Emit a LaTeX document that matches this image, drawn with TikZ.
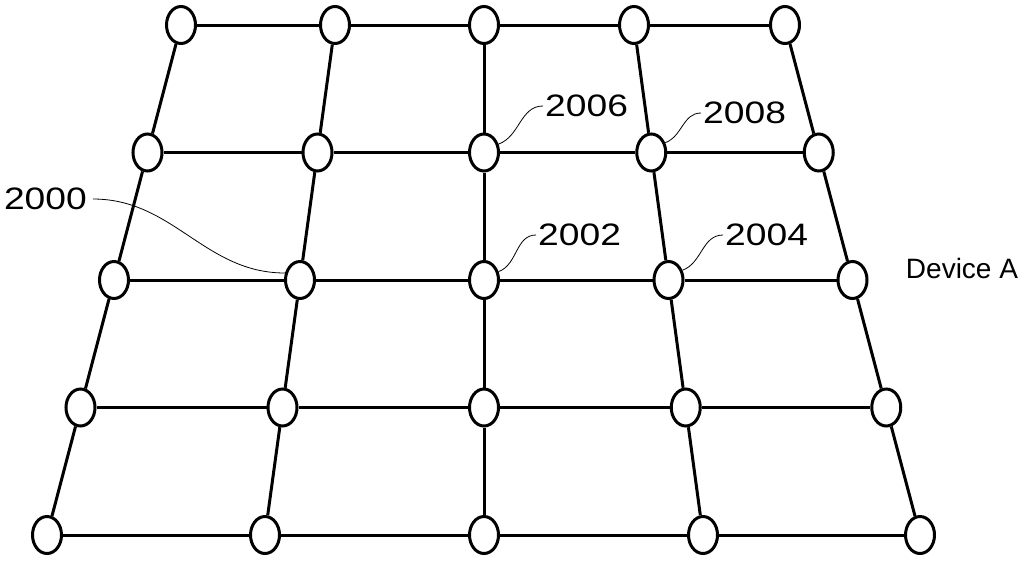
\documentclass[tikz,border=0pt]{standalone}
\usepackage{fontspec}
\setmainfont{Liberation Sans}
\usetikzlibrary{shapes.geometric}
\begin{document}
\begin{tikzpicture}[x=1pt,y=-1pt,
  dot/.style={ellipse,draw,line width=3pt,minimum width=29pt,minimum height=37pt,inner sep=0pt,fill=white},
  grid/.style={line width=3pt},
  lead/.style={line width=0.8pt},
  num/.style={inner sep=2pt,font=\fontsize{31}{31}\selectfont},
  dev/.style={inner sep=0pt,font=\fontsize{28}{28}\selectfont}]
\useasboundingbox (0,0) rectangle (1025,560);
\foreach \c/\t/\b in {0/181/47,1/335/265,2/484/484,3/634/703,4/785/920}
  \foreach \r in {0,...,4}
    \node[dot] (n\r\c) at ({\t+\r*(\b-\t)/4},{25+\r*127.5}) {};
\begin{scope}[on background layer/.try]
\end{scope}
\foreach \r in {0,...,4}
  \foreach \c/\d in {0/1,1/2,2/3,3/4}
    \draw[grid] (n\r\c) -- (n\r\d);
\foreach \c in {0,...,4}
  \foreach \r/\s in {0/1,1/2,2/3,3/4}
    \draw[grid] (n\r\c) -- (n\s\c);
\node[num,anchor=west] (l2006) at (543,106) {\scalebox{1.2}[1]{2006}};
\node[num,anchor=west] (l2002) at (536,235) {\scalebox{1.2}[1]{2002}};
\node[num,anchor=west] (l2008) at (701,113) {\scalebox{1.2}[1]{2008}};
\node[num,anchor=west] (l2004) at (723,235) {\scalebox{1.2}[1]{2004}};
\node[num,anchor=east] (l2000) at (89,199) {\scalebox{1.2}[1]{2000}};
\node[dev] (devA) at (962,268) {Device A};
\draw[lead] (n12.30) to[out=20,in=180] (l2006.west);
\draw[lead] (n22.30) to[out=20,in=180] (l2002.west);
\draw[lead] (n13.35) to[out=20,in=180] (l2008.west);
\draw[lead] (n23.35) to[out=20,in=180] (l2004.west);
\draw[lead] ([xshift=4pt]l2000.east) to[out=0,in=180] (n21.155);
\end{tikzpicture}
\end{document}
